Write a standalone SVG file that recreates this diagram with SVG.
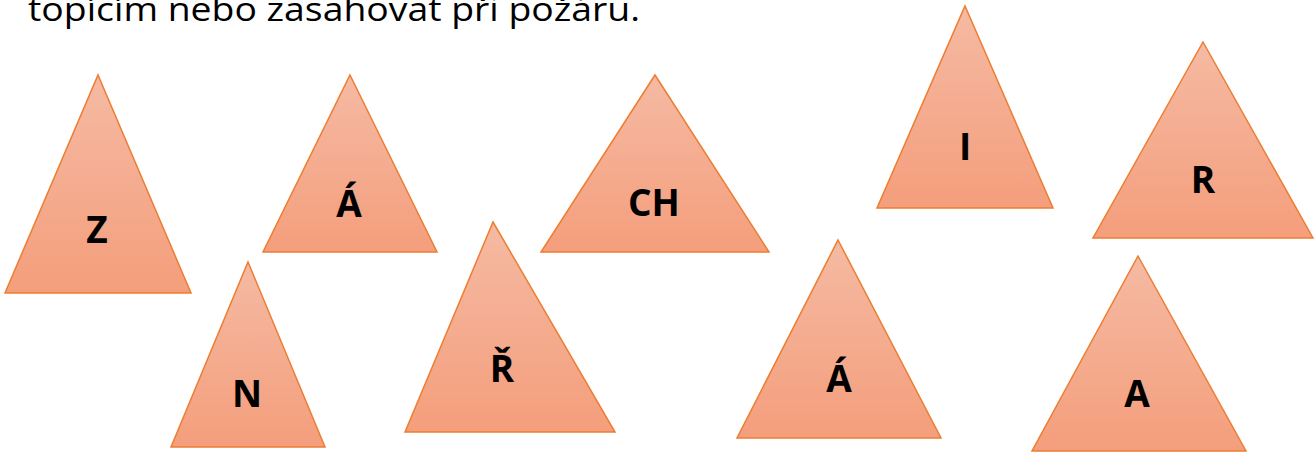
<svg xmlns="http://www.w3.org/2000/svg" width="1316" height="452" viewBox="0 0 1316 452">
<defs>
<linearGradient id="g" x1="0" y1="0" x2="0" y2="1">
<stop offset="0" stop-color="#F5BAA3"/>
<stop offset="1" stop-color="#F49E7C"/>
</linearGradient>
<style>
.tri{fill:url(#g);stroke:#ED7D31;stroke-width:1.5;stroke-linejoin:miter}
.lbl{font-family:"Open Sans","Liberation Sans",sans-serif;font-weight:bold;font-size:37px;fill:#000;text-anchor:middle}
.top{font-family:"Open Sans","Liberation Sans",sans-serif;font-size:33px;fill:#000}
</style>
</defs>
<text class="top" x="28" y="21" textLength="612" lengthAdjust="spacingAndGlyphs">topícím nebo zasahovat při požáru.</text>
<g id="tri-z"><polygon class="tri" points="98,75 191,293 5,293"/><text class="lbl" x="97" y="243">Z</text></g>
<g id="tri-a1"><polygon class="tri" points="350,75 437,252 263,252"/><text class="lbl" x="349" y="217">Á</text></g>
<g id="tri-ch"><polygon class="tri" points="655,75 769,252 541,252"/><text class="lbl" x="654" y="216">CH</text></g>
<g id="tri-i"><polygon class="tri" points="965,6 1053,208 877,208"/><text class="lbl" x="965" y="160">I</text></g>
<g id="tri-r"><polygon class="tri" points="1203,42 1313,238 1093,238"/><text class="lbl" x="1203" y="193">R</text></g>
<g id="tri-n"><polygon class="tri" points="248,262 325,447 171,447"/><text class="lbl" x="247" y="407">N</text></g>
<g id="tri-rr"><polygon class="tri" points="493,222 615,432 405,432"/><text class="lbl" x="502" y="382">Ř</text></g>
<g id="tri-a2"><polygon class="tri" points="838,240 941,438 737,438"/><text class="lbl" x="839" y="392">Á</text></g>
<g id="tri-a"><polygon class="tri" points="1138,256 1246,451 1032,451"/><text class="lbl" x="1137" y="407">A</text></g>
<g id="connectors"/>
</svg>
